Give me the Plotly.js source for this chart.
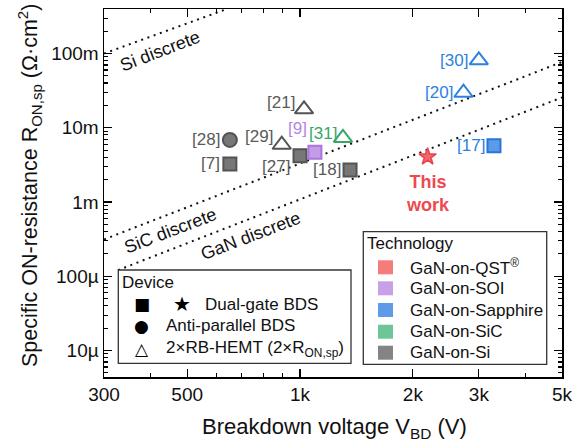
<!DOCTYPE html>
<html>
<head>
<meta charset="utf-8">
<script src="https://cdn.plot.ly/plotly-3.0.1.min.js"></script>
<style>
  html, body { margin: 0; padding: 0; background: #fff; }
  #chart { width: 584px; height: 446px; }
</style>
</head>
<body>
<div id="chart"></div>
<script>
// Breakdown voltage (V) and specific ON-resistance (Ω·cm²) of bidirectional switches

// GaN-on-Si, dual-gate BDS (squares)
const siSquareV = [650, 1000, 1360];
const siSquareR = [3.25e-3, 4.2e-3, 2.7e-3];
const siSquareRef = ['[7]', '[27]', '[18]'];

// GaN-on-Si, anti-parallel BDS (circle)
const siCircleV = [650];
const siCircleR = [6.85e-3];
const siCircleRef = ['[28]'];

// GaN-on-Si, 2×RB-HEMT (open triangles)
const siTriV = [894, 1025];
const siTriR = [5.9e-3, 17.7e-3];
const siTriRef = ['[29]', '[21]'];

// GaN-on-SOI, dual-gate BDS
const soiSquareV = [1096];
const soiSquareR = [4.67e-3];
const soiSquareRef = ['[9]'];

// GaN-on-SiC, 2×RB-HEMT
const sicTriV = [1302];
const sicTriR = [7.3e-3];
const sicTriRef = ['[31]'];

// GaN-on-Sapphire, 2×RB-HEMT
const sapTriV = [2730, 3000];
const sapTriR = [29.6e-3, 80.8e-3];
const sapTriRef = ['[20]', '[30]'];

// GaN-on-Sapphire, dual-gate BDS
const sapSquareV = [3292];
const sapSquareR = [5.73e-3];
const sapSquareRef = ['[17]'];

// GaN-on-QST, this work
const qstStarV = [2190];
const qstStarR = [4.07e-3];

// Material limit lines (end points)
const siLimitV = [300, 640];
const siLimitR = [0.1, 0.4];
const sicLimitV = [300, 5000];
const sicLimitR = [3.13e-4, 7.68e-2];
const ganLimitV = [327, 5000];
const ganLimitR = [1.21e-4, 2.56e-2];

// Axis ticks
const xTickVals = [300, 500, 1000, 2000, 3000, 5000];
const xTickText = ['300', '500', '1k', '2k', '3k', '5k'];
const xMinorVals = [400, 600, 700, 800, 900, 4000];
const yTickVals = [1e-5, 1e-4, 1e-3, 1e-2, 1e-1];
const yTickText = ['10µ', '100µ', '1m', '10m', '100m'];

// Technology legend
const techNames = ['GaN-on-QST<sup>®</sup>', 'GaN-on-SOI', 'GaN-on-Sapphire', 'GaN-on-SiC', 'GaN-on-Si'];
const techColors = ['#f67b7b', '#c7a0e7', '#5f9be6', '#6ec597', '#848484'];

const FONT = 'Liberation Sans, Arial, Helvetica, sans-serif';
const GLYPH = 'DejaVu Sans, sans-serif';

// plot-area geometry in pixels
const M = { l: 104, r: 22, t: 9, b: 69 };
const PW = 584 - M.l - M.r, PH = 446 - M.t - M.b;
const px = x => (x - M.l) / PW;
const py = y => (M.t + PH - y) / PH;

// y minor ticks: 2..9 in each decade
const yMinorVals = [];
for (let e = -6; e <= 0; e++) {
  for (let d = 2; d <= 9; d++) yMinorVals.push(d * Math.pow(10, e));
}

const grayFill = '#777777', grayLine = '#545454', grayText = '#5a5a5a';
const purpleFill = '#c39be6', purpleLine = '#a977dc', purpleText = '#b585e3';
const greenLine = '#37a669', greenText = '#37a669';
const blueLine = '#2f7fe0', blueFill = '#5b9be8', blueText = '#2f7fe0';
const redFill = '#f2666c', redLine = '#e8444c', redText = '#ef4850';

function limitLine(v, r) {
  return {
    x: v, y: r, mode: 'lines', type: 'scatter', hoverinfo: 'skip',
    line: { color: '#111', width: 2, dash: '2px,4.6px' }
  };
}

function markers(v, r, symbol, size, fill, line, lw) {
  return {
    x: v, y: r, mode: 'markers', type: 'scatter',
    marker: { symbol: symbol, size: size, color: fill, line: { color: line, width: lw } }
  };
}

const data = [
  limitLine(siLimitV, siLimitR),
  limitLine(sicLimitV, sicLimitR),
  limitLine(ganLimitV, ganLimitR),
  markers(siSquareV, siSquareR, 'square', 13, grayFill, grayLine, 2),
  markers(siCircleV, siCircleR, 'circle', 14, grayFill, grayLine, 2),
  markers(siTriV, siTriR, 'triangle-up-open', 16, grayLine, grayLine, 2),
  markers(soiSquareV, soiSquareR, 'square', 13, purpleFill, purpleLine, 2),
  markers(sicTriV, sicTriR, 'triangle-up-open', 16, greenLine, greenLine, 2),
  markers(sapTriV, sapTriR, 'triangle-up-open', 16, blueLine, blueLine, 2),
  markers(sapSquareV, sapSquareR, 'square', 13, blueFill, '#2b74da', 2),
  markers(qstStarV, qstStarR, 'star', 13, redFill, redLine, 1.5)
];

const annotations = [];

// reference labels next to each device
function refLabels(v, r, refs, color, dx, dy) {
  refs.forEach((t, i) => {
    annotations.push({
      x: Math.log10(v[i]), y: Math.log10(r[i]), xref: 'x', yref: 'y',
      text: t, showarrow: false, xanchor: 'right', yanchor: 'middle',
      xshift: dx[i], yshift: dy[i], borderpad: 0,
      font: { family: FONT, size: 17, color: color }
    });
  });
}
refLabels(siSquareV, siSquareR, siSquareRef, grayText, [-9, -9, -8], [0, -11, 0]);
refLabels(siCircleV, siCircleR, siCircleRef, grayText, [-9], [0]);
refLabels(siTriV, siTriR, siTriRef, grayText, [-8, -8], [8, 7]);
refLabels(soiSquareV, soiSquareR, soiSquareRef, purpleText, [-7], [24]);
refLabels(sicTriV, sicTriR, sicTriRef, greenText, [-5], [4]);
refLabels(sapTriV, sapTriR, sapTriRef, blueText, [-9, -10], [0, 0]);
refLabels(sapSquareV, sapSquareR, sapSquareRef, blueText, [-8], [0]);

annotations.push({
  x: Math.log10(qstStarV[0]), y: Math.log10(qstStarR[0]), xref: 'x', yref: 'y',
  text: '<b>This<br>work</b>', showarrow: false, xanchor: 'center', yanchor: 'middle',
  yshift: -37, align: 'center',
  font: { family: FONT, size: 18, color: redText }
});

// material limit labels
function paperText(text, x, y, opts) {
  annotations.push(Object.assign({
    xref: 'paper', yref: 'paper', x: px(x), y: py(y), text: text,
    showarrow: false, xanchor: 'left', yanchor: 'middle', borderpad: 0,
    font: { family: FONT, size: 17, color: '#111' }
  }, opts || {}));
}
paperText('Si discrete', 160, 51, { xanchor: 'center', textangle: -21, font: { family: FONT, size: 18, color: '#111' } });
paperText('SiC discrete', 170, 231, { xanchor: 'center', textangle: -21, font: { family: FONT, size: 18, color: '#111' } });
paperText('GaN discrete', 250, 235.5, { xanchor: 'center', textangle: -21, font: { family: FONT, size: 18, color: '#111' } });

// axis titles
paperText('Breakdown voltage V<sub>BD</sub> (V)', 334, 428, { xanchor: 'center', font: { family: FONT, size: 22, color: '#111' } });
paperText('Specific ON-resistance R<sub>ON,sp</sub> (Ω·cm<sup>2</sup>)', 29, 186,
  { xanchor: 'center', textangle: -90, font: { family: FONT, size: 21.5, color: '#111' } });

// device legend
paperText('Device', 121, 282);
paperText('■', 141.7, 304, { xanchor: 'center', font: { family: GLYPH, size: 17, color: '#000' } });
paperText('★', 181.7, 303.5, { xanchor: 'center', font: { family: GLYPH, size: 20, color: '#000' } });
paperText('●', 141.7, 325.5, { xanchor: 'center', font: { family: GLYPH, size: 17, color: '#000' } });
paperText('△', 141.7, 349, { xanchor: 'center', font: { family: GLYPH, size: 17, color: '#000' } });
paperText('Dual-gate BDS', 204, 304);
paperText('Anti-parallel BDS', 165, 325);
paperText('2×RB-HEMT (2×R<sub>ON,sp</sub>)', 165, 349);

// technology legend
paperText('Technology', 366, 243.3);
const techRowY = [267.3, 288.3, 310, 331.7, 352.7];
const shapes = [
  { type: 'rect', xref: 'paper', yref: 'paper', x0: px(118.3), x1: px(351), y0: py(363.3), y1: py(270),
    line: { color: '#333', width: 1.3 }, fillcolor: '#fff', layer: 'above' },
  { type: 'rect', xref: 'paper', yref: 'paper', x0: px(363.3), x1: px(546.7), y0: py(364.3), y1: py(231.7),
    line: { color: '#333', width: 1.3 }, fillcolor: '#fff', layer: 'above' }
];
techNames.forEach((name, i) => {
  shapes.push({
    type: 'rect', xref: 'paper', yref: 'paper',
    x0: px(378), x1: px(393), y0: py(techRowY[i] + 7), y1: py(techRowY[i] - 7),
    line: { width: 0 }, fillcolor: techColors[i], layer: 'above'
  });
  paperText(name, 409, techRowY[i]);
});

const axisCommon = {
  type: 'log', showgrid: false, zeroline: false,
  showline: true, linecolor: '#000', linewidth: 1.5, mirror: 'allticks',
  ticks: 'inside', ticklen: 8, tickwidth: 1.3, tickcolor: '#000',
  tickmode: 'array',
  tickfont: { family: FONT, size: 19, color: '#111' }
};

const layout = {
  width: 584, height: 446,
  margin: M,
  paper_bgcolor: '#fff', plot_bgcolor: '#fff',
  showlegend: false,
  xaxis: Object.assign({}, axisCommon, {
    range: [Math.log10(300), Math.log10(5000)],
    tickvals: xTickVals, ticktext: xTickText,
    minor: { tickmode: 'array', tickvals: xMinorVals, ticks: 'inside', ticklen: 4, tickwidth: 1.1, tickcolor: '#000', showgrid: false }
  }),
  yaxis: Object.assign({}, axisCommon, {
    range: [-5.357, -0.4007],
    tickvals: yTickVals, ticktext: yTickText,
    minor: { tickmode: 'array', tickvals: yMinorVals, ticks: 'inside', ticklen: 4, tickwidth: 1.1, tickcolor: '#000', showgrid: false }
  }),
  annotations: annotations,
  shapes: shapes
};

Plotly.newPlot('chart', data, layout, { staticPlot: true, displayModeBar: false });
</script>
</body>
</html>
